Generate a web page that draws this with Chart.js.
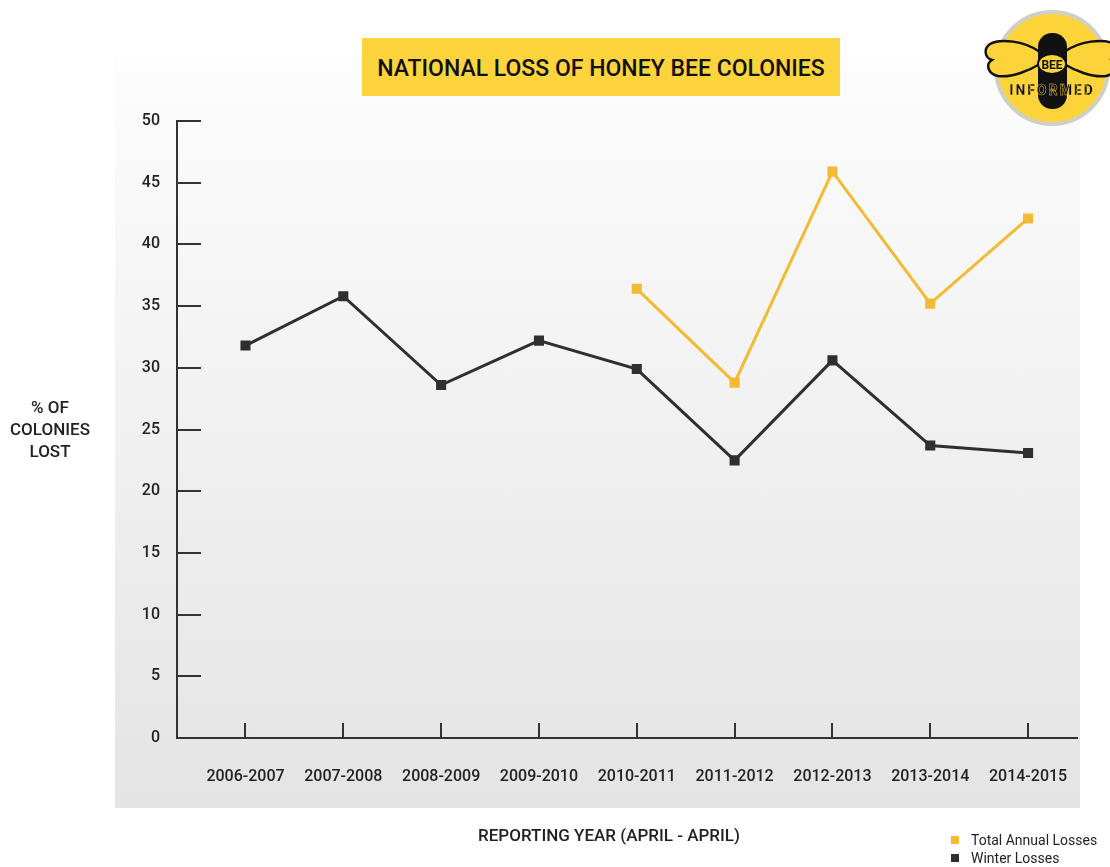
<!DOCTYPE html>
<html lang="en">
<head>
<meta charset="UTF-8">
<title>National Loss of Honey Bee Colonies</title>
<script src="https://cdn.jsdelivr.net/npm/chart.js"></script>
<style>
    body { margin: 0; background: #fff; font-family: Roboto, "DejaVu Sans", sans-serif; color: #222; }
    #wrap { position: relative; width: 1110px; height: 867px; overflow: hidden; }
    #panel { position: absolute; left: 115px; top: 56px; width: 965px; height: 752px;
             background: linear-gradient(#fdfdfd, #e4e4e4); }
    #chart { position: absolute; left: 0; top: 0; }
    #title { position: absolute; left: 362px; top: 38px; width: 478px; height: 58px; background: #fdd43c;
             font-weight: 500; font-size: 23px; line-height: 62px; text-align: center; color: #111; }
    #ylabel { position: absolute; left: 0; top: 396px; width: 100px; text-align: center;
              font-size: 17px; font-weight: 500; line-height: 22px; color: #222; }
    #xlabel { position: absolute; left: 409px; top: 825px; width: 400px; text-align: center;
              font-size: 17px; font-weight: 500; color: #222; }
    #legend { position: absolute; left: 951px; top: 831px; font-size: 14px; line-height: 18px; color: #222; }
    #legend span.box { display: inline-block; width: 8px; height: 8px; margin-right: 12px; vertical-align: 1px; }
    #logo { position: absolute; left: 980px; top: 4px; }
</style>
</head>
<body>
<div id="wrap">
    <div id="panel"></div>
    <canvas id="chart" width="1110" height="867"></canvas>
    <div id="title">NATIONAL LOSS OF HONEY BEE COLONIES</div>
    <div id="ylabel">% OF<br>COLONIES<br>LOST</div>
    <div id="xlabel">REPORTING YEAR (APRIL - APRIL)</div>
    <div id="legend"></div>
    <svg id="logo" width="130" height="130" viewBox="0 0 130 130">
        <circle cx="72" cy="64" r="56" fill="#fcd43a" stroke="#cfcfc5" stroke-width="4"/>
        <path d="M60 48 C45 37 20 34 10 40 C3 45 5 54 12 56 C5 60 8 70 18 72 C32 74 50 66 60 60 Z"
              fill="#fcd43a" stroke="#111" stroke-width="2.5"/>
        <path d="M84 48 C99 37 124 34 134 40 C141 45 139 54 132 56 C139 60 136 70 126 72 C112 74 94 66 84 60 Z"
              fill="#fcd43a" stroke="#111" stroke-width="2.5"/>
        <rect x="58" y="29" width="29" height="76" rx="14" fill="#111"/>
        <ellipse cx="72" cy="60" rx="14" ry="10" fill="#fcd43a" stroke="#111" stroke-width="2"/>
        <text x="72" y="65" text-anchor="middle" font-family="Roboto" font-weight="bold" font-size="12" fill="#111">BEE</text>
        <text x="72" y="91" text-anchor="middle" font-family="Roboto" font-weight="900" font-size="14" letter-spacing="2" fill="#111" stroke="#fcd43a" stroke-width="0.4">INFORMED</text>
    </svg>
</div>
<script>
    var years = ["2006-2007", "2007-2008", "2008-2009", "2009-2010", "2010-2011",
                 "2011-2012", "2012-2013", "2013-2014", "2014-2015"];
    var winterLosses = [31.8, 35.8, 28.6, 32.2, 29.9, 22.5, 30.6, 23.7, 23.1];
    var annualLosses = [null, null, null, null, 36.4, 28.8, 45.9, 35.2, 42.1];
    var yTicks = [0, 5, 10, 15, 20, 25, 30, 35, 40, 45, 50];
    var seriesNames = ["Total Annual Losses", "Winter Losses"];
    var seriesColors = ["#f3ba33", "#2f2f2f"];

    function points(values) {
        var out = [];
        values.forEach(function (v, i) {
            if (v !== null) out.push({ x: i, y: v });
        });
        return out;
    }

    // short tick marks pointing into the plot, like the original
    var innerTicks = {
        id: "innerTicks",
        beforeDatasetsDraw: function (chart) {
            var ctx = chart.ctx, x = chart.scales.x, y = chart.scales.y;
            ctx.save();
            ctx.strokeStyle = "#333";
            ctx.lineWidth = 2;
            ctx.beginPath();
            yTicks.forEach(function (t) {
                var py = Math.round(y.getPixelForValue(t));
                ctx.moveTo(x.left, py);
                ctx.lineTo(x.left + 24, py);
            });
            years.forEach(function (_, i) {
                var px = Math.round(x.getPixelForValue(i));
                ctx.moveTo(px, y.bottom);
                ctx.lineTo(px, y.bottom - 15);
            });
            ctx.stroke();
            ctx.restore();
        }
    };

    var legend = document.getElementById("legend");
    seriesNames.forEach(function (name, i) {
        var row = document.createElement("div");
        row.innerHTML = '<span class="box" style="background:' + seriesColors[i] + '"></span>' + name;
        legend.appendChild(row);
    });

    var tickFont = { family: "Roboto", size: 16, weight: "500" };

    var myChart = new Chart(document.getElementById("chart"), {
        type: "line",
        data: {
            datasets: [{
                label: seriesNames[0],
                data: points(annualLosses),
                borderColor: seriesColors[0],
                backgroundColor: seriesColors[0],
                borderWidth: 3,
                pointStyle: "rect",
                pointRadius: 5,
                pointHoverRadius: 5,
                tension: 0
            }, {
                label: seriesNames[1],
                data: points(winterLosses),
                borderColor: seriesColors[1],
                backgroundColor: seriesColors[1],
                borderWidth: 3,
                pointStyle: "rect",
                pointRadius: 5,
                pointHoverRadius: 5,
                tension: 0
            }]
        },
        options: {
            responsive: false,
            animation: false,
            layout: { padding: { left: 117, top: 121, right: 33, bottom: 69 } },
            plugins: { legend: { display: false }, tooltip: { enabled: false } },
            scales: {
                x: {
                    type: "linear",
                    min: -0.7,
                    max: 8.5,
                    afterBuildTicks: function (s) { s.ticks = years.map(function (_, i) { return { value: i }; }); },
                    afterFit: function (s) { s.height = 60; },
                    grid: { display: false, drawTicks: false },
                    border: { display: true, color: "#333", width: 2 },
                    ticks: {
                        padding: 29,
                        maxRotation: 0,
                        autoSkip: false,
                        color: "#222",
                        font: tickFont,
                        callback: function (v) { return years[v]; }
                    }
                },
                y: {
                    min: 0,
                    max: 50,
                    afterBuildTicks: function (s) { s.ticks = yTicks.map(function (t) { return { value: t }; }); },
                    afterFit: function (s) { s.width = 60; },
                    grid: { display: false, drawTicks: false },
                    border: { display: true, color: "#333", width: 2 },
                    ticks: { padding: 17, color: "#222", font: tickFont }
                }
            }
        },
        plugins: [innerTicks]
    });
</script>
</body>
</html>
